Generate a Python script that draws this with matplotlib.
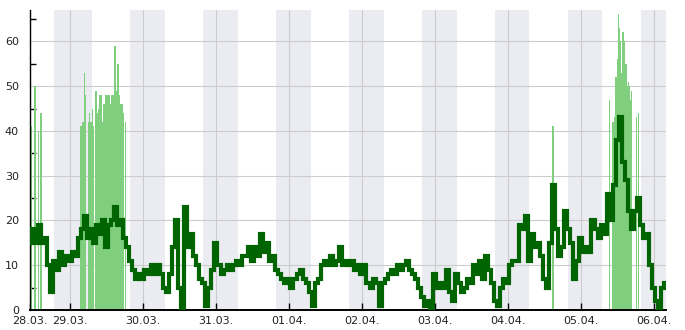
import numpy as np
import matplotlib
matplotlib.use("Agg")
import matplotlib.pyplot as plt
from matplotlib.ticker import MultipleLocator

# time axis in hours since 28.03. 00:00
start_hour = 11
dark_values = [
    15, 18, 15, 19, 15, 16, 10, 4, 11, 9, 13, 10, 12,
    11, 13, 12, 16, 18, 21, 16, 18, 15, 19, 17, 20, 14, 19, 20, 23, 19, 20, 16, 14, 11, 9, 7, 8,
    7, 9, 8, 10, 8, 10, 8, 5, 4, 8, 14, 20, 5, 0, 23, 14, 17, 12, 10, 7, 6, 1, 5, 9,
    15, 10, 8, 9, 10, 9, 10, 11, 10, 12, 12, 14, 11, 14, 12, 17, 13, 15, 11, 12, 9, 8, 7, 6,
    7, 5, 7, 8, 9, 7, 6, 4, 1, 6, 7, 10, 11, 10, 12, 10, 11, 14, 10, 11, 10, 11, 9, 10,
    8, 10, 6, 5, 7, 6, 1, 6, 7, 8, 9, 8, 10, 9, 10, 11, 9, 8, 7, 5, 3, 1, 2, 0,
    8, 5, 6, 5, 9, 4, 2, 8, 6, 4, 5, 7, 6, 10, 8, 11, 7, 12, 9, 6, 2, 1, 5, 7,
    6, 10, 11, 11, 19, 18, 21, 11, 17, 14, 15, 12, 7, 5, 15, 28, 18, 12, 14, 22, 18, 15, 7, 11,
    16, 13, 14, 13, 20, 18, 16, 19, 17, 26, 20, 28, 38, 43, 33, 29, 22, 18, 22, 25, 19, 16, 17, 10, 5, 2, 0, 5, 6,
]

bar_hours = [
    11.1, 11.4, 12.5, 13.6, 14.5,
    27.4, 27.7, 28.1, 28.4, 28.8, 29.1, 30.1, 30.4, 30.7, 31.1, 31.4, 31.7,
    32.55, 32.9, 33.2, 33.5, 33.9, 34.2, 34.5, 34.85, 35.2, 35.5, 35.8, 36.2, 36.5,
    36.8, 37.15, 37.5, 37.8, 38.1, 38.5, 38.8, 39.1, 39.45, 39.8, 40.1, 40.4, 40.8,
    41.1, 41.4, 42.2,
    182.9,
    201.5, 202.6, 203.2, 203.6, 204.0, 204.3, 204.6, 204.9, 205.3, 205.6, 205.9,
    206.3, 206.6, 206.9, 207.3, 207.6, 208.0, 208.3, 208.7, 210.4, 210.9,
]
bar_values = [
    43, 41, 50, 40, 44,
    41, 41, 42, 42, 53, 48, 42, 44, 42, 42, 45, 41,
    49, 44, 41, 45, 48, 48, 42, 41, 46, 44, 48, 48, 46,
    48, 46, 46, 48, 46, 48, 59, 49, 46, 55, 48, 46, 46,
    46, 44, 42,
    41,
    47, 42, 43, 52, 56, 66, 63, 60, 53, 62, 62,
    60, 52, 55, 50, 51, 50, 47, 49, 43, 44,
]

night_start = [18.7, 43.7, 67.7, 91.7, 115.7, 139.7, 163.7, 187.7, 211.7]
night_end = [31.2, 55.2, 79.2, 103.2, 127.2, 151.2, 174.9, 198.9, 224.0]

tick_hours = [10.85, 24, 48, 72, 96, 120, 144, 168, 192, 216]
tick_labels = ["28.03.", "29.03.", "30.03.", "31.03.", "01.04.", "02.04.",
               "03.04.", "04.04.", "05.04.", "06.04."]

hours = np.arange(start_hour, start_hour + len(dark_values))

fig = plt.figure(figsize=(6.85, 3.3), dpi=100)
ax = fig.add_axes([30 / 685, 20 / 330, 636 / 685, 300 / 330])

for s, e in zip(night_start, night_end):
    ax.axvspan(s, e, color="#ebecf2", lw=0, zorder=0)

ax.bar(bar_hours, bar_values, width=0.45, color="#7fcf7f", lw=0, zorder=2)
ax.plot(hours, dark_values, drawstyle="steps-mid", color="#006400", lw=3.0, zorder=3,
        solid_joinstyle="miter")

ax.set_xlim(10.85, 220)
ax.set_ylim(0, 67)

ax.set_xticks(tick_hours)
ax.set_xticklabels(tick_labels)
ax.yaxis.set_major_locator(MultipleLocator(10))
ax.yaxis.set_minor_locator(MultipleLocator(5))
ax.grid(True, which="major", color="#cccccc", lw=0.8, zorder=1)
ax.set_axisbelow(True)

ax.tick_params(axis="x", direction="in", length=5, width=1, colors="black",
               labelsize=8, labelcolor="#222222", pad=4)
ax.tick_params(axis="y", which="major", length=0, labelsize=8, labelcolor="#222222", pad=8)
ax.tick_params(axis="y", which="minor", direction="in", length=4, width=1, colors="black")

for side in ["top", "right"]:
    ax.spines[side].set_visible(False)
ax.spines["left"].set_linewidth(1)
ax.spines["bottom"].set_linewidth(1.4)

fig.savefig("out.png", dpi=100)
